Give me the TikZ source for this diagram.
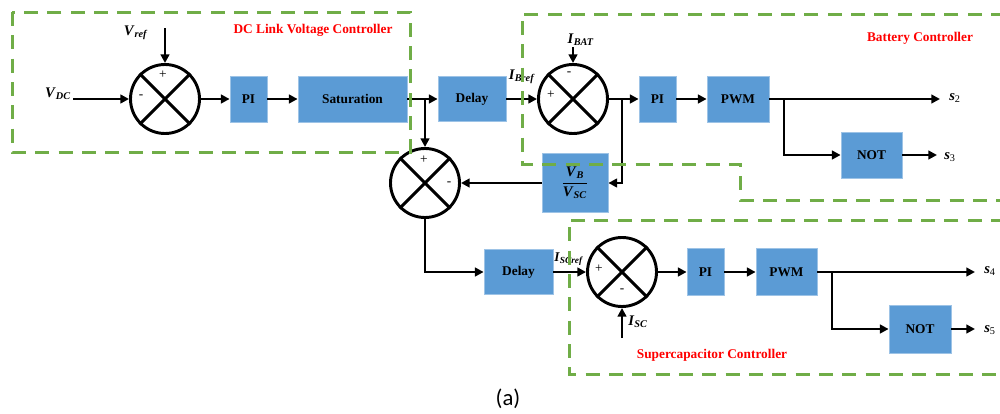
\documentclass[tikz,border=0pt]{standalone}
\usepackage{amsmath}
\usepackage{fontspec}
\setmainfont{Liberation Serif}
\newfontfamily\capfont{Carlito}
\usetikzlibrary{arrows.meta}
\definecolor{boxblue}{HTML}{5B9BD5}
\definecolor{boxedge}{HTML}{9DC3E6}
\definecolor{zonegreen}{HTML}{70AD47}
\newcommand\mysig[2]{\textbf{\textit{#1}}\textsubscript{\textbf{\textit{#2}}}}
\newcommand\myout[2]{\textbf{\textit{#1}}\textsubscript{#2}}
\begin{document}
\begin{tikzpicture}[x=0.75pt,y=-0.75pt,
  blk/.style={draw=boxedge, fill=boxblue, line width=0.6pt, inner sep=0pt,
    font=\bfseries\fontsize{10}{12}\selectfont},
  bsize/.style 2 args={minimum width=#1*0.75pt, minimum height=#2*0.75pt},
  sumc/.style={circle, draw, line width=2.2pt, minimum size=69*0.75pt, inner sep=0pt},
  cross/.style={line width=2.2pt},
  conn/.style={line width=1.9pt, -{Triangle[length=6.5pt,width=6.5pt]}},
  zone/.style={draw=zonegreen, line width=2.25pt, dash pattern=on 10.5pt off 7pt},
  ztitle/.style={text=red, font=\bfseries\fontsize{10}{12}\selectfont},
  lbl/.style={inner sep=0pt, font=\fontsize{11}{12}\selectfont},
  sgn/.style={inner sep=0pt, font=\fontsize{10}{10}\selectfont}]
\useasboundingbox (0,0) rectangle (1000,414);
\clip (0,0) rectangle (1000,414);

% blocks
\node[blk, bsize={37}{46}] (pi1) at (248.5,99) {PI};
\node[blk, bsize={109}{46}] (sat) at (352.5,99) {Saturation};
\node[blk, bsize={68}{45}] (d1) at (472,99) {Delay};
\node[blk, bsize={37}{46}] (pi2) at (657.5,99) {PI};
\node[blk, bsize={62}{46}] (pwm1) at (738,99) {PWM};
\node[blk, bsize={61}{46}] (not1) at (871.5,155) {NOT};
\node[blk, bsize={66}{59}, font=\fontsize{11}{12}\selectfont] (vbsc) at (575,183)
  {$\dfrac{\mbox{\mysig{V}{B}}}{\mbox{\mysig{V}{SC}}}$};
\node[blk, bsize={69}{45}] (d2) at (518.5,272) {Delay};
\node[blk, bsize={37}{47}] (pi3) at (705.5,272) {PI};
\node[blk, bsize={61}{47}] (pwm2) at (786.5,272) {PWM};
\node[blk, bsize={62}{48}] (not2) at (920,329) {NOT};

% summing junctions
\node[sumc] (s1) at (165,99) {};
\node[sumc] (s2) at (425,183) {};
\node[sumc] (s3) at (573,99) {};
\node[sumc] (s4) at (622,272) {};
\foreach \s in {s1,s2,s3,s4}{
  \draw[cross] (\s.north east) -- (\s.south west) (\s.north west) -- (\s.south east);
}
\node[sgn] (p1) at (163,75) {+};
\node[sgn] (m1) at (141,97) {-};
\node[sgn] (p2) at (424,160) {+};
\node[sgn] (m2) at (449,184) {-};
\node[sgn] (m3) at (569,74) {-};
\node[sgn] (p3) at (551,95) {+};
\node[sgn] (p4) at (599,269) {+};
\node[sgn] (m4) at (622,291) {-};

% signal labels
\node[lbl] (vdc) at (58,94) {\mysig{V}{DC}};
\node[lbl] (vref) at (136,33) {\mysig{V}{ref}};
\node[lbl] (ibref) at (522,77) {\mysig{I}{Bref}};
\node[lbl] (ibat) at (581,40) {\mysig{I}{BAT}};
\node[lbl, font=\fontsize{10}{10}\selectfont] (iscref) at (569,259) {\mysig{I}{SCref}};
\node[lbl] (isc) at (638,322) {\mysig{I}{SC}};
\node[lbl] (o2) at (955,98) {\myout{s}{2}};
\node[lbl] (o3) at (950,157) {\myout{s}{3}};
\node[lbl] (o4) at (990,271) {\myout{s}{4}};
\node[lbl] (o5) at (990,330) {\myout{s}{5}};

% coordinates
\coordinate (vdcin) at (73,99);
\coordinate (vrefin) at (165,28);
\coordinate (ibatin) at (573,47);
\coordinate (iscin) at (622,338);
\coordinate (j1) at (425,99);
\coordinate (j2) at (622,99);
\coordinate (j3) at (784,99);
\coordinate (j4) at (832,272);
\coordinate (e2) at (940,99);
\coordinate (e3) at (937,155);
\coordinate (e4) at (975,272);
\coordinate (e5) at (975,329);

% connectors
\draw[conn] (vdcin) -- (s1.west);
\draw[conn] (vrefin) -- (s1.north);
\draw[conn] (s1.east) -- (pi1.west);
\draw[conn] (pi1.east) -- (sat.west);
\draw[conn] (sat.east) -- (d1.west);
\draw[conn] (j1) -- (s2.north);
\draw[conn] (d1.east) -- (s3.west);
\draw[conn] (ibatin) -- (s3.north);
\draw[conn] (s3.east) -- (pi2.west);
\draw[conn] (j2) |- (vbsc.east);
\draw[conn] (vbsc.west) -- (s2.east);
\draw[conn] (s2.south) |- (d2.west);
\draw[conn] (pi2.east) -- (pwm1.west);
\draw[conn] (pwm1.east) -- (e2);
\draw[conn] (j3) |- (not1.west);
\draw[conn] (not1.east) -- (e3);
\draw[conn] (d2.east) -- (s4.west);
\draw[conn] (iscin) -- (s4.south);
\draw[conn] (s4.east) -- (pi3.west);
\draw[conn] (pi3.east) -- (pwm2.west);
\draw[conn] (pwm2.east) -- (e4);
\draw[conn] (j4) |- (not2.west);
\draw[conn] (not2.east) -- (e5);

% controller zones
\draw[zone] (12,12) rectangle (410,152);
\draw[zone] (1005,14) -- (522,14) -- (522,164) -- (740,164) -- (740,200) -- (1005,200);
\draw[zone] (1005,220) -- (569,220) -- (569,374) -- (1005,374);
\node[ztitle] (t1) at (313,30) {DC Link Voltage Controller};
\node[ztitle] (t2) at (920,38) {Battery Controller};
\node[ztitle] (t3) at (712,355) {Supercapacitor Controller};

\node[inner sep=0pt, font=\capfont\fontsize{17}{20}\selectfont] (cap) at (508,399) {(a)};
\end{tikzpicture}
\end{document}
